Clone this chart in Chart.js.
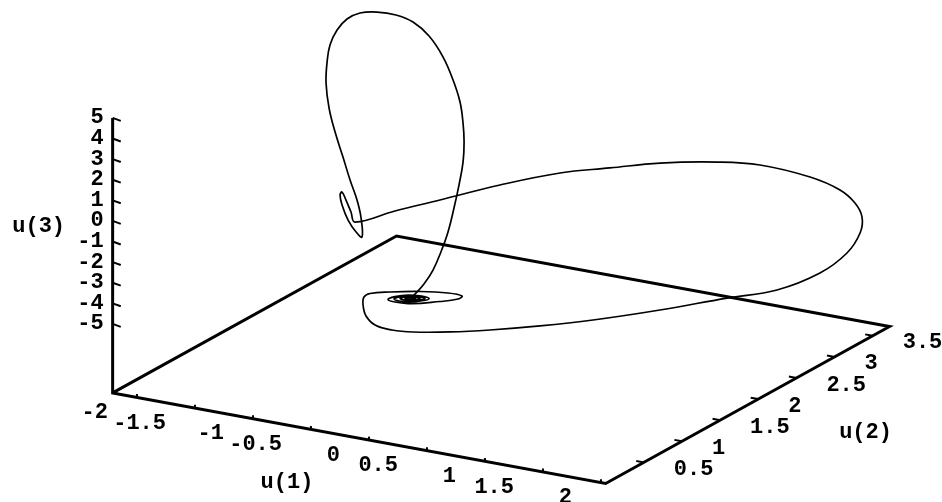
<!DOCTYPE html>
<html>
<head>
<meta charset="utf-8">
<script src="https://cdn.jsdelivr.net/npm/chart.js@4.4.0/dist/chart.umd.min.js"></script>
<style>
  html, body { margin: 0; padding: 0; background: #fff; }
  #wrap { width: 942px; height: 502px; }
</style>
</head>
<body>
<div id="wrap"><canvas id="myChart" width="942" height="502"></canvas></div>
<script>
//----- orbit samples, leaving the equilibrium and coming back to it

let u1 = [
  -0.304,
  -0.261, -0.304, -0.347, -0.304,
  -0.218, -0.304, -0.390, -0.304,
  -0.175, -0.313, -0.442, -0.313,
  -0.140, -0.321, -0.494, -0.321,
  -0.045, 0.110, 0.144, 0.024, -0.218, -0.476, -0.649, -0.701, -0.709, -0.683, -0.606, -0.459, -0.278,
  -0.091, 0.122, 0.356, 0.616, 0.930, 1.245, 1.478, 1.717,
  1.884, 1.997, 2.014, 1.953, 1.824, 1.566, 1.134, 0.764,
  0.338, -0.028, -0.392, -0.844, -1.296, -1.651, -1.962,
  -1.997, -2.040, -2.074, -2.091, -2.074, -2.022, -1.953, -1.902, -1.910, -1.945, -2.005,
  -2.066, -2.134, -2.186, -2.212, -2.203, -2.178, -2.117, -2.031, -1.919, -1.772, -1.609,
  -1.462, -1.324, -1.203, -1.117, -1.057, -1.031, -1.022, -1.031, -1.066, -1.109,
  -1.029, -0.827, -0.632, -0.447, -0.318, -0.296
];
let u2 = [
  1.0,
  1.0, 1.0, 1.0, 1.0,
  1.0, 1.0, 1.0, 1.0,
  1.0, 1.0, 1.0, 1.0,
  1.0, 1.0, 1.0, 1.0,
  1.0, 1.0, 1.0, 1.0, 1.0, 1.0, 1.0, 1.0, 1.0, 1.0, 1.0, 1.0, 1.0,
  1.2, 1.4, 1.7, 2.0, 2.4, 2.8, 3.1, 3.3,
  3.4, 3.4, 3.4, 3.4, 3.4, 3.4, 3.4, 3.4,
  3.3, 3.2, 3.1, 3.0, 2.9, 2.85, 2.8,
  2.8, 2.8, 2.8, 2.8, 2.8, 2.8, 2.8, 2.8, 2.8, 2.8, 2.8,
  2.8, 2.8, 2.8, 2.8, 2.8, 2.8, 2.8, 2.8, 2.8, 2.8, 2.8,
  2.8, 2.8, 2.8, 2.8, 2.8, 2.8, 2.8, 2.8, 2.8, 2.8,
  2.6, 2.2, 1.8, 1.4, 1.1, 1.0
];
let u3 = [
  -3.844,
  -3.799, -3.795, -3.889, -3.893,
  -3.755, -3.747, -3.933, -3.941,
  -3.710, -3.707, -4.011, -4.023,
  -3.675, -3.692, -4.089, -4.105,
  -3.722, -3.441, -3.259, -3.238, -3.415, -3.707, -3.958, -4.181, -4.578, -5.086, -5.443, -5.533, -5.444,
  -5.657, -5.752, -5.928, -5.985, -5.995, -5.907, -5.889, -5.229,
  -4.289, -3.202, -2.408, -1.791, -1.293, -0.930, -0.793, -1.031,
  -1.316, -1.728, -2.143, -2.989, -3.981, -4.780, -5.534,
  -5.084, -4.546, -4.193, -4.356, -4.824, -5.499, -6.010, -6.200, -5.286, -4.448, -3.539,
  -2.485, -1.343, -0.232, 0.955, 1.984, 2.836, 3.626, 4.250, 4.657, 4.857, 4.881,
  4.692, 4.155, 3.261, 2.233, 1.228, 0.235, -0.679, -1.658, -2.811, -3.971,
  -4.642, -4.583, -4.440, -4.107, -3.795, -3.786
];

// box ranges and ticks
let u1Range = [-2.21, 2.04];
let u2Range = [0, 3.72];
let u3Range = [-8.35, 5];
let u1Ticks = [-2, -1.5, -1, -0.5, 0, 0.5, 1, 1.5, 2];
let u2Ticks = [0.5, 1, 1.5, 2, 2.5, 3, 3.5];
let u3Ticks = [-5, -4, -3, -2, -1, 0, 1, 2, 3, 4, 5];
let axisTitles = ["u(1)", "u(2)", "u(3)"];

// parallel projection onto the view plane
const origin = [369, 268];
const e1 = [116, 21.3];
const e2 = [76.3, -42.2];
const e3 = [0, -20.6];

function project(a, b, c) {
  return {
    x: origin[0] + a * e1[0] + b * e2[0] + c * e3[0],
    y: origin[1] + a * e1[1] + b * e2[1] + c * e3[1],
  };
}

let orbit = [];
for (let i = 0; i < u1.length; i++) {
  orbit.push(project(u1[i], u2[i], u3[i]));
}

let x0 = u1Range[0], x1 = u1Range[1];
let y0 = u2Range[0], y1 = u2Range[1];
let zf = u3Range[0], zt = u3Range[1];

// z axis then the four floor edges
let frame = [
  project(x0, y0, zt),
  project(x0, y0, zf),
  project(x1, y0, zf),
  project(x1, y1, zf),
  project(x0, y1, zf),
  project(x0, y0, zf),
];

// short tick strokes pointing into the box
let tickMarks = [];
u1Ticks.forEach((t) => {
  let p = project(t, y0, zf);
  let q = project(t - 0.04, y0 + 0.06, zf);
  tickMarks.push(p, q, { x: p.x, y: null });
});
u2Ticks.forEach((t) => {
  let p = project(x1, t, zf);
  let q = project(x1 - 0.065, t, zf);
  tickMarks.push(p, q, { x: p.x, y: null });
});
u3Ticks.forEach((t) => {
  let p = project(x0, y0, t);
  let q = project(x0 + 0.07, y0, t - 0.07);
  tickMarks.push(p, q, { x: p.x, y: null });
});

const labelFont = 'bold 22px "Liberation Mono", "Courier New", monospace';

let axisText = {
  id: "axisText",
  afterDatasetsDraw(chart) {
    let ctx = chart.ctx;
    let sx = chart.scales.x, sy = chart.scales.y;
    let px = (p) => sx.getPixelForValue(p.x);
    let py = (p) => sy.getPixelForValue(p.y);
    ctx.save();
    ctx.font = labelFont;
    ctx.fillStyle = "#000";
    ctx.textBaseline = "middle";

    ctx.textAlign = "right";
    u1Ticks.forEach((t) => {
      let p = project(t, y0, zf);
      ctx.fillText(String(t), px(p) - 29, py(p) + 15);
    });
    u3Ticks.forEach((t) => {
      let p = project(x0, y0, t);
      ctx.fillText(String(t), px(p) - 9, py(p));
    });

    ctx.textAlign = "left";
    u2Ticks.forEach((t) => {
      let p = project(x1, t, zf);
      ctx.fillText(String(t), px(p) + 30, py(p) + 7);
    });

    ctx.textAlign = "center";
    let m1 = project(0, y0, zf);
    ctx.fillText(axisTitles[0], px(m1) - 82, py(m1) + 42);
    let m2 = project(x1, (y0 + y1) / 2, zf);
    ctx.fillText(axisTitles[1], px(m2) + 118, py(m2) + 27);
    let m3 = project(x0, y0, 0);
    ctx.fillText(axisTitles[2], px(m3) - 74, py(m3) + 6);
    ctx.restore();
  },
};

let ctxEl = document.getElementById("myChart").getContext("2d");
let orbitChart = new Chart(ctxEl, {
  type: "scatter",
  data: {
    datasets: [
      {
        label: "frame",
        data: frame,
        showLine: true,
        borderColor: "#000",
        borderWidth: 3,
        borderJoinStyle: "miter",
        pointRadius: 0,
        tension: 0,
      },
      {
        label: "ticks",
        data: tickMarks,
        showLine: true,
        spanGaps: false,
        borderColor: "#000",
        borderWidth: 2,
        pointRadius: 0,
        tension: 0,
      },
      {
        label: "orbit",
        data: orbit,
        showLine: true,
        borderColor: "#000",
        borderWidth: 1.7,
        pointRadius: 0,
        tension: 0.4,
      },
    ],
  },
  options: {
    responsive: false,
    animation: false,
    layout: { padding: 0 },
    plugins: { legend: { display: false }, tooltip: { enabled: false } },
    scales: {
      x: { type: "linear", min: 0, max: 942, display: false },
      y: { type: "linear", min: 0, max: 502, reverse: true, display: false },
    },
  },
  plugins: [axisText],
});
</script>
</body>
</html>
